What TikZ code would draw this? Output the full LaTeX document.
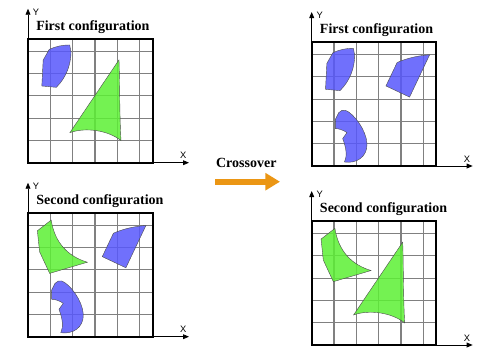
\documentclass[tikz,border=0pt]{standalone}
\usepackage{fontspec}
\setmainfont{Liberation Serif}
\setsansfont{Liberation Sans}
\usetikzlibrary{arrows.meta}
\definecolor{shblue}{RGB}{88,88,252}
\definecolor{shgreen}{RGB}{92,240,52}
\definecolor{gridgray}{RGB}{128,128,128}
\definecolor{arrorange}{RGB}{235,150,20}
\tikzset{
  gridline/.style={draw=gridgray, line width=0.9pt},
  framebox/.style={draw=black, line width=1.4pt},
  axisline/.style={draw=black, line width=0.6pt, -{Triangle[length=4.5pt,width=3.6pt]}},
  axlabel/.style={font=\sffamily\fontsize{7}{8}\selectfont, inner sep=0pt},
  titletext/.style={font=\bfseries\fontsize{10.5}{12}\selectfont, anchor=base west, inner sep=0pt},
  blueshape/.style={fill=shblue, fill opacity=0.85, draw=gray!60!black, line width=0.3pt},
  greenshape/.style={fill=shgreen, fill opacity=0.85, draw=gray!60!black, line width=0.3pt},
  bigarrow/.style={draw=arrorange, line width=4.5pt, -{Triangle[length=11pt,width=12.5pt]}},
}
\newcommand\shapeBa{\path[blueshape] (0.95,5.08) .. controls (1.25,5.22) and (1.55,5.28) .. (1.87,5.28) -- (1.93,4.95) .. controls (1.92,4.45) and (1.75,3.85) .. (1.27,3.38) -- (0.62,3.44) -- (0.68,4.6) -- cycle;}
\newcommand\shapeBb{\path[blueshape] (3.83,4.64) .. controls (4.3,4.85) and (4.8,4.95) .. (5.29,4.99) -- (4.39,3.09) -- (3.33,3.59) -- cycle;}
\newcommand\shapeBc{\path[blueshape] (1.21,2.39) .. controls (1.3,2.5) and (1.4,2.52) .. (1.51,2.50) .. controls (1.9,2.35) and (2.45,1.6) .. (2.48,1.0) .. controls (2.5,0.4) and (2.0,0.1) .. (1.47,0.18) .. controls (1.6,0.45) and (1.55,0.8) .. (1.39,1.23) .. controls (1.45,1.35) and (1.55,1.42) .. (1.58,1.50) .. controls (1.4,1.62) and (1.2,1.68) .. (1.06,1.68) -- (1.06,2.09) -- cycle;}
\newcommand\shapeGa{\path[greenshape] (1.88,1.35) -- (4.08,4.61) .. controls (4.12,3.5) and (4.1,2.2) .. (4.17,0.99) .. controls (3.6,1.45) and (2.6,1.6) .. (1.88,1.35) -- cycle;}
\newcommand\shapeGb{\path[greenshape] (1.04,5.23) .. controls (1.2,4.2) and (1.8,3.6) .. (2.66,3.34) -- (0.97,2.84) -- (0.52,3.81) -- (0.42,4.75) -- cycle;}
\newcommand\drawpanel[5]{%
  \begin{scope}[shift={(#1,#2)}, x=16.725pt, y=16.725pt]
    \foreach \k in {1,...,5} {\draw[gridline] (\k,0) -- (\k,5.55); \draw[gridline] (0,\k) -- (5.59,\k);}
    #5
    \draw[framebox] (0,0) rectangle (5.59,5.55);
    \coordinate (#3o) at (0,0);
    \coordinate (#3y) at (0,6.906);
    \coordinate (#3x) at (7.22,0);
    \draw[axisline] (#3o) -- (#3y);
    \draw[axisline] (#3o) -- (#3x);
    \node[axlabel] (#3yl) at (0.36,6.75) {Y};
    \node[axlabel] (#3xl) at (6.96,0.32) {X};
    \node[titletext] (#3t) at (0.36,5.92) {#4};
  \end{scope}}
\begin{document}
\begin{tikzpicture}[x=0.75pt, y=-0.75pt]
  \useasboundingbox (0,0) rectangle (490,355);
  \fill[white] (0,0) rectangle (490,355);
  \drawpanel{28}{162.7}{tl}{First configuration}{\shapeBa\shapeGa}
  \drawpanel{28}{336.7}{bl}{Second configuration}{\shapeGb\shapeBb\shapeBc}
  \drawpanel{311.7}{166}{tr}{First configuration}{\shapeBa\shapeBb\shapeBc}
  \drawpanel{311.7}{345}{br}{Second configuration}{\shapeGb\shapeGa}
  \node[font=\bfseries\fontsize{10.5}{12}\selectfont, anchor=base, inner sep=0pt] (cross) at (246.3,167.7) {Crossover};
  \coordinate (arrs) at (215,181.7);
  \coordinate (arre) at (280,181.7);
  \draw[bigarrow] (arrs) -- (arre);
\end{tikzpicture}
\end{document}
